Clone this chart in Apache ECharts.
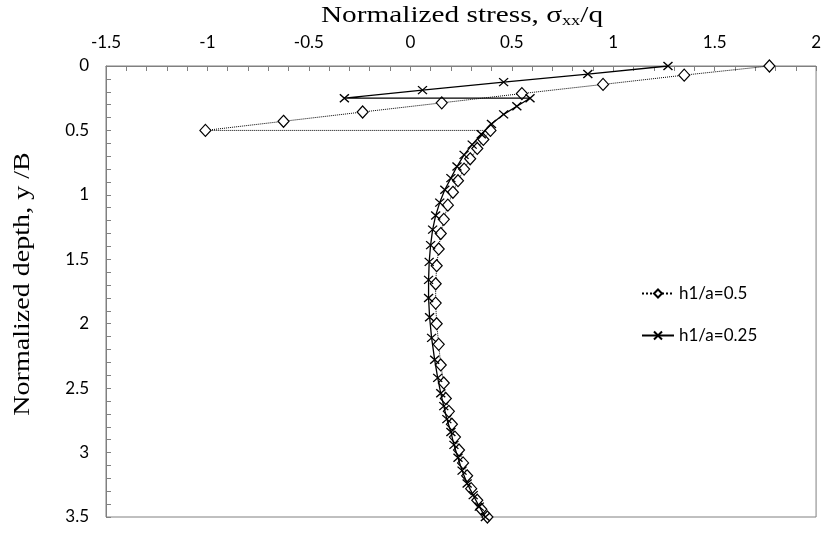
<!DOCTYPE html>
<html>
<head>
<meta charset="utf-8">
<script src="https://cdn.jsdelivr.net/npm/echarts@6/dist/echarts.min.js"></script>
<style>
  html, body { margin: 0; padding: 0; background: #fff; }
  #chart { width: 824px; height: 556px; }
</style>
</head>
<body>
<div id="chart"></div>
<script>
// Legend labels for the two cases
const seriesNames = ['h1/a=0.5', 'h1/a=0.25'];

// Case h1/a = 0.5 : normalized depth y/B and normalized stress sxx/q
const depthA = [0, 0.071, 0.143, 0.214, 0.286, 0.357, 0.429, 0.5,
  0.5, 0.57, 0.64, 0.72, 0.80, 0.89, 0.98,
  1.08, 1.19, 1.30, 1.42, 1.55, 1.69, 1.84,
  2.0, 2.16, 2.32, 2.46, 2.58, 2.68, 2.78, 2.88, 2.98,
  3.08, 3.18, 3.28, 3.37, 3.44, 3.5];
const stressA = [1.77, 1.35, 0.95, 0.55, 0.155, -0.235, -0.625, -1.01,
  0.395, 0.36, 0.33, 0.295, 0.265, 0.235, 0.21,
  0.185, 0.165, 0.15, 0.14, 0.13, 0.125, 0.125,
  0.13, 0.14, 0.15, 0.165, 0.175, 0.19, 0.205, 0.22, 0.24,
  0.26, 0.28, 0.30, 0.33, 0.35, 0.38];

// Case h1/a = 0.25
const depthB = [0, 0.0625, 0.125, 0.1875, 0.25,
  0.25, 0.3125, 0.375, 0.45, 0.53,
  0.61, 0.69, 0.78, 0.87, 0.96,
  1.06, 1.16, 1.27, 1.39, 1.52,
  1.66, 1.8, 1.95, 2.11, 2.28,
  2.42, 2.54, 2.64, 2.74, 2.84,
  2.94, 3.04, 3.14, 3.24, 3.33,
  3.42, 3.5];
const stressB = [1.27, 0.875, 0.46, 0.06, -0.325,
  0.59, 0.525, 0.46, 0.40, 0.35,
  0.305, 0.265, 0.23, 0.20, 0.17,
  0.145, 0.125, 0.11, 0.10, 0.093,
  0.09, 0.09, 0.095, 0.105, 0.12,
  0.135, 0.15, 0.165, 0.18, 0.20,
  0.215, 0.235, 0.255, 0.28, 0.31,
  0.34, 0.37];

// Axis ranges
const stressRange = { min: -1.5, max: 2, step: 0.5 };
const depthRange = { min: 0, max: 3.5, step: 0.5 };

const pairs = (xs, ys) => xs.map((x, i) => [x, ys[i]]);
const crossSymbol = 'path://M0,0L10,10M10,0L0,10';
const frameGray = '#808080';
const tickFont = 'Lato, "Liberation Sans", sans-serif';
const serifFont = '"Liberation Serif", "Times New Roman", serif';

const chart = echarts.init(document.getElementById('chart'), null, { renderer: 'canvas' });

chart.setOption({
  animation: false,
  backgroundColor: '#fff',
  grid: {
    left: 106, right: 6, top: 66, bottom: 39,
    show: true, borderColor: frameGray, borderWidth: 1, backgroundColor: 'transparent'
  },
  // Axis titles, drawn as text so they can be widened slightly
  graphic: [
    {
      type: 'text',
      x: 462, y: 16,
      scaleX: 1.22,
      style: {
        text: '{t|Normalized stress, σ}{s|xx}{t|/q}',
        align: 'center',
        verticalAlign: 'middle',
        rich: {
          t: { fontFamily: serifFont, fontSize: 24, fill: '#000', lineHeight: 28 },
          s: { fontFamily: serifFont, fontSize: 15, fill: '#000', lineHeight: 28, padding: [11, 0, 0, 0] }
        }
      }
    },
    {
      type: 'text',
      x: 23, y: 284,
      rotation: Math.PI / 2,
      scaleX: 1.17,
      style: {
        text: 'Normalized depth, y /B',
        align: 'center',
        verticalAlign: 'middle',
        font: '24px "Liberation Serif", "Times New Roman", serif',
        fill: '#000'
      }
    }
  ],
  xAxis: {
    type: 'value',
    position: 'top',
    min: stressRange.min, max: stressRange.max, interval: stressRange.step,
    axisLine: { show: true, onZero: false, lineStyle: { color: frameGray, width: 1 } },
    axisTick: { show: true, inside: true, length: 5, lineStyle: { color: frameGray } },
    minorTick: { show: true, splitNumber: 5, length: 5, lineStyle: { color: frameGray } },
    axisLabel: { fontFamily: tickFont, fontSize: 17, color: '#000', margin: 15 },
    splitLine: { show: false }
  },
  yAxis: {
    type: 'value',
    inverse: true,
    min: depthRange.min, max: depthRange.max, interval: depthRange.step,
    axisLine: { show: true, onZero: false, lineStyle: { color: frameGray, width: 1 } },
    axisTick: { show: true, inside: true, length: 5, lineStyle: { color: frameGray } },
    minorTick: { show: true, splitNumber: 5, length: 5, lineStyle: { color: frameGray } },
    axisLabel: { fontFamily: tickFont, fontSize: 17, color: '#000', margin: 17 },
    splitLine: { show: false }
  },
  legend: {
    orient: 'vertical',
    left: 636,
    top: 280,
    itemGap: 25,
    itemWidth: 32,
    itemHeight: 10,
    textStyle: { fontFamily: tickFont, fontSize: 17, color: '#000' },
    data: seriesNames
  },
  series: [
    {
      name: seriesNames[0],
      type: 'line',
      data: pairs(stressA, depthA),
      symbol: 'diamond',
      symbolSize: [11, 12],
      showAllSymbol: true,
      itemStyle: { color: '#fff', borderColor: '#000', borderWidth: 1.2 },
      lineStyle: { color: '#000', width: 1, type: 'dotted' },
      z: 2
    },
    {
      name: seriesNames[1],
      type: 'line',
      data: pairs(stressB, depthB),
      symbol: crossSymbol,
      symbolSize: [9, 8],
      showAllSymbol: true,
      itemStyle: { color: '#000', borderColor: '#000', borderWidth: 1.3 },
      lineStyle: { color: '#000', width: 1.3, type: 'solid' },
      z: 3
    }
  ]
});
</script>
</body>
</html>
